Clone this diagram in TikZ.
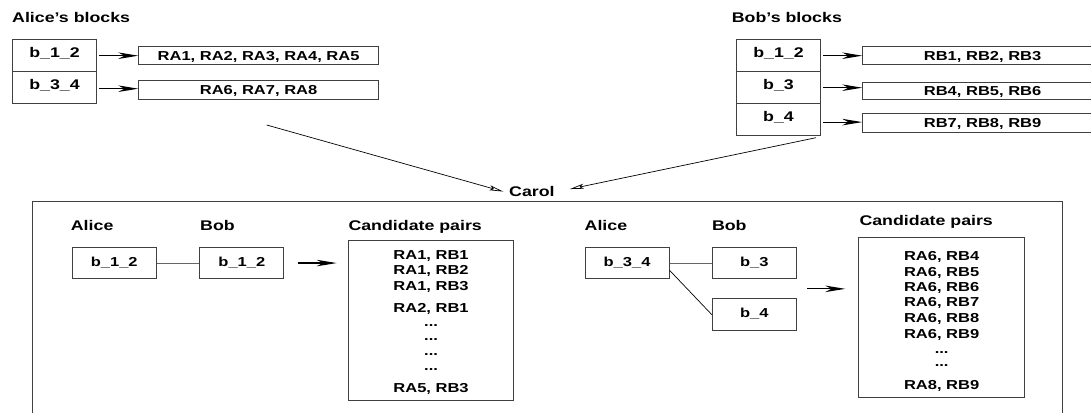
\documentclass[tikz,border=0pt]{standalone}
\usepackage{fontspec}
\setmainfont{Liberation Sans}
\usepackage{graphicx}
\usetikzlibrary{arrows.meta,calc}
% all lettering is set a little wider than the font's natural width
\newcommand\wide[1]{\scalebox{1.27}[1]{#1}}

\begin{document}
\begin{tikzpicture}[x=1pt,y=-1pt,
  heading/.style={font=\bfseries\fontsize{14}{16}\selectfont, inner sep=0pt, anchor=base west},
  frame/.style={draw=black!75, line width=1.1pt},
  cell/.style={frame, anchor=north west, inner sep=0pt, minimum width=84.5pt,
    text height=9pt, text depth=6pt, font=\bfseries\fontsize{14}{16}\selectfont},
  record/.style={frame, anchor=north west, inner sep=0pt, minimum width=239.5pt,
    text height=9.5pt, text depth=0pt, font=\bfseries\fontsize{13}{15}\selectfont},
  blockbox/.style={frame, anchor=north west, inner sep=0pt, minimum width=84pt, minimum height=31.6pt,
    text height=9pt, text depth=3pt, font=\bfseries\fontsize{13}{15}\selectfont},
  pairbox/.style={frame, anchor=north west, inner sep=0pt, minimum width=165.6pt},
  pair/.style={font=\bfseries\fontsize{13}{15}\selectfont, inner sep=0pt, anchor=base},
  feed/.style={line width=1.2pt, -{Stealth[length=20pt,width=6.5pt,inset=6pt]}},
  send/.style={line width=0.7pt, -{Stealth[open,length=14pt,width=5pt,inset=3pt]}},
  link/.style={draw=black!60, line width=0.9pt},
]
\useasboundingbox (0,0) rectangle (1091,412);

% ---------- Alice's blocks ----------
\node[heading] (atitle) at (12,23) {\wide{Alice's blocks}};
\node[cell, minimum height=31.7pt] (a12) at (11.7,39.3) {\wide{b\_1\_2}};
\node[cell, minimum height=32.3pt] (a34) at (11.7,71) {\wide{b\_3\_4}};
\node[record, minimum height=18.3pt] (ra1) at (138.3,46) {\wide{RA1, RA2, RA3, RA4, RA5}};
\node[record, minimum height=19.3pt] (ra2) at (138.3,80) {\wide{RA6, RA7, RA8}};
\draw[feed, shorten <=2pt] (a12.east) -- (a12.east -| ra1.west);
\draw[feed, shorten <=2pt] ([yshift=-1pt]a34.east) -- ([yshift=-1pt]a34.east -| ra2.west);

% ---------- Bob's blocks ----------
\node[heading] (btitle) at (731.7,22.7) {\wide{Bob's blocks}};
\node[cell, minimum height=31.7pt] (b12) at (735.7,39.3) {\wide{b\_1\_2}};
\node[cell, minimum height=32.3pt] (b3) at (735.7,71) {\wide{b\_3}};
\node[cell, minimum height=31.7pt] (b4) at (735.7,103.3) {\wide{b\_4}};
\node[record, minimum height=18.3pt] (rb1) at (862.3,46) {\wide{RB1, RB2, RB3}};
\node[record, minimum height=17.6pt] (rb2) at (862.3,81.7) {\wide{RB4, RB5, RB6}};
\node[record, minimum height=19pt] (rb3) at (862.3,112.7) {\wide{RB7, RB8, RB9}};
\draw[feed, shorten <=2pt] (b12.east) -- (b12.east -| rb1.west);
\draw[feed, shorten <=2pt] (b3.east) -- (b3.east -| rb2.west);
\draw[feed, shorten <=2pt] ([yshift=-2.4pt]b4.east) -- ([yshift=-2.4pt]b4.east -| rb3.west);

% ---------- both parties send their blocks to Carol ----------
\node[heading, text height=9pt] (carol) at (509,196) {\wide{Carol}};
\coordinate (fromA) at (266.7,125);
\coordinate (fromB) at (816,137.7);
\draw[send] (fromA) -- ([xshift=-5.7pt]carol.west);
\draw[send] (fromB) -- ([xshift=15pt,yshift=2.5pt]carol.east);

% Carol's workspace
\draw[draw=black!75, line width=1.4pt] (32.7,201.7) rectangle (1062.3,440);

% ---------- first block pair ----------
\node[heading] (alice1) at (70.7,230) {\wide{Alice}};
\node[heading] (bob1) at (200,230) {\wide{Bob}};
\node[heading] (cp1) at (348.3,230) {\wide{Candidate pairs}};
\node[blockbox] (pa) at (71.7,246.7) {\wide{b\_1\_2}};
\node[blockbox] (pb) at (199.3,246.7) {\wide{b\_1\_2}};
\draw[link] (pa.east) -- (pb.west);
\node[pairbox, minimum height=160pt] (c1) at (347.7,240) {};
\draw[feed] ([xshift=14pt]pb.east) -- ([xshift=-11pt]pb.east -| c1.west);
\foreach \yy/\txt [count=\i] in {259.3/{RA1, RB1}, 274.3/{RA1, RB2}, 290/{RA1, RB3},
    312.7/{RA2, RB1}, 326.7/{...}, 340/{...}, 355/{...}, 370/{...}, 392.7/{RA5, RB3}}
  \node[pair] (p\i) at (c1.center |- 0,\yy) {\wide{\txt}};

% ---------- second block pair ----------
\node[heading] (alice2) at (584.5,230) {\wide{Alice}};
\node[heading] (bob2) at (711.8,230) {\wide{Bob}};
\node[heading] (cp2) at (859.3,225) {\wide{Candidate pairs}};
\node[blockbox] (qa) at (584.5,246.7) {\wide{b\_3\_4}};
\node[blockbox] (qb3) at (711.8,246.7) {\wide{b\_3}};
\node[blockbox] (qb4) at (711.8,298.3) {\wide{b\_4}};
\draw[link] (qa.east) -- (qb3.west);
\draw[line width=0.7pt] ([yshift=-7.3pt]qa.east) -- (qb4.west);
\node[pairbox, minimum height=159.4pt] (c2) at (858.3,237.3) {};
\coordinate (qmid) at ($(qb3.east)!0.5!(qb4.east)$);
\draw[feed] ([xshift=10.5pt]qmid) -- ([xshift=-13pt]qmid -| c2.west);
\foreach \yy/\txt [count=\i] in {260.7/{RA6, RB4}, 276/{RA6, RB5}, 291.7/{RA6, RB6},
    306.7/{RA6, RB7}, 322.7/{RA6, RB8}, 338.3/{RA6, RB9}, 353.3/{...}, 366.7/{...}, 389/{RA8, RB9}}
  \node[pair] (q\i) at (c2.center |- 0,\yy) {\wide{\txt}};
\end{tikzpicture}
\end{document}
